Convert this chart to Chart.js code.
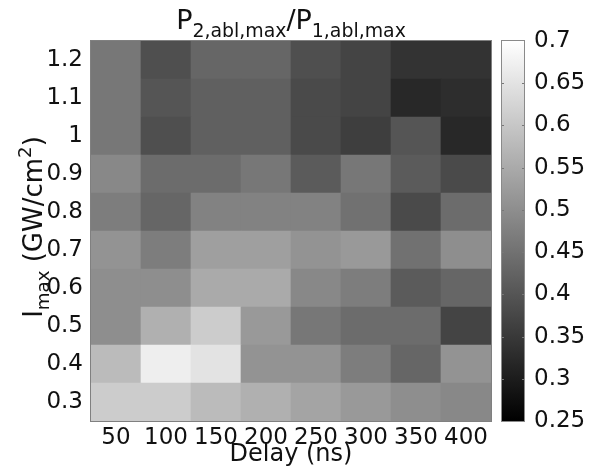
<!DOCTYPE html>
<html>
<head>
<meta charset="utf-8">
<script src="https://cdn.jsdelivr.net/npm/chart.js@4/dist/chart.umd.min.js"></script>
<style>
  body { margin: 0; background: #fff; }
  #wrap { position: relative; width: 594px; height: 475px; }
  #heat { position: absolute; left: 0; top: 0; }
  #bar { position: absolute; left: 494px; top: 0; }
</style>
</head>
<body>
<div id="wrap">
  <canvas id="heat" width="594" height="475"></canvas>
  <canvas id="bar" width="100" height="475"></canvas>
</div>
<script>
const delays = ["50", "100", "150", "200", "250", "300", "350", "400"];
const intensities = [0.3, 0.4, 0.5, 0.6, 0.7, 0.8, 0.9, 1, 1.1, 1.2];

// P2/P1 ratio, one row per intensity (0.3 ... 1.2), columns follow delays
const row03 = [0.61, 0.61, 0.58, 0.56, 0.54, 0.52, 0.50, 0.49];
const row04 = [0.58, 0.67, 0.65, 0.51, 0.51, 0.47, 0.43, 0.51];
const row05 = [0.50, 0.56, 0.61, 0.52, 0.46, 0.44, 0.44, 0.37];
const row06 = [0.50, 0.50, 0.55, 0.55, 0.49, 0.47, 0.41, 0.43];
const row07 = [0.51, 0.47, 0.53, 0.53, 0.51, 0.52, 0.45, 0.50];
const row08 = [0.47, 0.43, 0.48, 0.48, 0.48, 0.45, 0.38, 0.44];
const row09 = [0.49, 0.44, 0.44, 0.46, 0.41, 0.46, 0.41, 0.38];
const row10 = [0.46, 0.39, 0.42, 0.42, 0.38, 0.36, 0.40, 0.32];
const row11 = [0.46, 0.40, 0.42, 0.42, 0.38, 0.37, 0.32, 0.33];
const row12 = [0.46, 0.39, 0.43, 0.43, 0.39, 0.37, 0.34, 0.34];
const ratioRows = [row03, row04, row05, row06, row07, row08, row09, row10, row11, row12];

const colorTicks = [0.25, 0.3, 0.35, 0.4, 0.45, 0.5, 0.55, 0.6, 0.65, 0.7];
const cMin = 0.25;
const cMax = 0.7;

const FONT = '"DejaVu Sans", sans-serif';

function grayFor(v) {
  let t = (v - cMin) / (cMax - cMin);
  t = Math.max(0, Math.min(1, t));
  const g = Math.round(t * 255);
  return "rgb(" + g + "," + g + "," + g + ")";
}

// draws a string made of pieces, some of them sub- or superscript
function drawRich(ctx, parts, x, y, size, align) {
  const widths = parts.map(p => {
    ctx.font = (p.sub || p.sup ? size * 0.7 : size) + "px " + FONT;
    return ctx.measureText(p.t).width;
  });
  const total = widths.reduce((a, b) => a + b, 0);
  let cx = align === "center" ? x - total / 2 : x;
  ctx.textBaseline = "alphabetic";
  ctx.textAlign = "left";
  parts.forEach((p, i) => {
    ctx.font = (p.sub || p.sup ? size * 0.7 : size) + "px " + FONT;
    let dy = 0;
    if (p.sub) dy = size * 0.28;
    if (p.sup) dy = -size * 0.42;
    ctx.fillText(p.t, cx, y + dy);
    cx += widths[i];
  });
}

const heatLabels = {
  id: "heatLabels",
  afterDraw(chart) {
    const ctx = chart.ctx;
    const a = chart.chartArea;
    ctx.save();
    ctx.strokeStyle = "#808080";
    ctx.lineWidth = 1;
    ctx.strokeRect(a.left - 0.5, a.top - 0.5, a.width + 1, a.height + 1);
    ctx.fillStyle = "#111";
    drawRich(ctx, [
      { t: "P" }, { t: "2,abl,max", sub: true }, { t: "/P" }, { t: "1,abl,max", sub: true }
    ], (a.left + a.right) / 2, 29, 27, "center");
    ctx.translate(42, 227);
    ctx.rotate(-Math.PI / 2);
    drawRich(ctx, [
      { t: "I" }, { t: "max", sub: true }, { t: " (GW/cm" }, { t: "2", sup: true }, { t: ")" }
    ], 0, 0, 26, "center");
    ctx.restore();
  }
};

const heatData = {
  labels: delays,
  datasets: intensities.map((iv, r) => ({
    label: "I = " + iv,
    data: delays.map(() => [iv - 0.05, iv + 0.05]),
    backgroundColor: ratioRows[r].map(grayFor),
    borderWidth: 0,
    barPercentage: 1,
    categoryPercentage: 1,
    grouped: false
  }))
};

new Chart(document.querySelector("#heat").getContext("2d"), {
  type: "bar",
  data: heatData,
  options: {
    responsive: false,
    animation: false,
    layout: { padding: { top: 41, right: 103, left: 0, bottom: 0 } },
    plugins: { legend: { display: false }, tooltip: { enabled: false } },
    scales: {
      x: {
        grid: { display: false, drawTicks: false },
        border: { display: false },
        ticks: { color: "#111", font: { family: FONT, size: 23 }, padding: 3, maxRotation: 0, autoSkip: false },
        title: {
          display: true, text: "Delay (ns)", color: "#111",
          font: { family: FONT, size: 24 }, padding: { top: 0, bottom: 6 }
        },
        afterFit(scale) { scale.height = 54; }
      },
      y: {
        min: 0.25,
        max: 1.25,
        grid: { display: false, drawTicks: false },
        border: { display: false },
        ticks: {
          color: "#111", font: { family: FONT, size: 23 }, padding: 8,
          callback: v => String(v)
        },
        afterBuildTicks(scale) { scale.ticks = intensities.map(v => ({ value: v })); },
        afterFit(scale) { scale.width = 91; }
      }
    }
  },
  plugins: [heatLabels]
});

const barFrame = {
  id: "barFrame",
  afterDraw(chart) {
    const ctx = chart.ctx;
    const a = chart.chartArea;
    const ys = chart.scales.y;
    ctx.save();
    ctx.strokeStyle = "#8a8a8a";
    ctx.lineWidth = 1;
    ctx.strokeRect(a.left - 0.5, a.top - 0.5, a.width + 1, a.height + 1);
    ctx.strokeStyle = "#777";
    colorTicks.slice(1, -1).forEach(v => {
      const py = Math.round(ys.getPixelForValue(v)) + 0.5;
      ctx.beginPath();
      ctx.moveTo(a.left, py); ctx.lineTo(a.left + 2, py);
      ctx.moveTo(a.right - 2, py); ctx.lineTo(a.right, py);
      ctx.stroke();
    });
    ctx.restore();
  }
};

new Chart(document.querySelector("#bar").getContext("2d"), {
  type: "bar",
  data: {
    labels: ["scale"],
    datasets: [{
      data: [[cMin, cMax]],
      backgroundColor(c) {
        const chart = c.chart;
        if (!chart.chartArea) return "#888";
        const ys = chart.scales.y;
        const g = chart.ctx.createLinearGradient(0, ys.getPixelForValue(cMin), 0, ys.getPixelForValue(cMax));
        g.addColorStop(0, grayFor(cMin));
        g.addColorStop(1, grayFor(cMax));
        return g;
      },
      borderWidth: 0,
      barPercentage: 1,
      categoryPercentage: 1
    }]
  },
  options: {
    responsive: false,
    animation: false,
    layout: { padding: { top: 41, left: 8, right: 0, bottom: 54 } },
    plugins: { legend: { display: false }, tooltip: { enabled: false } },
    scales: {
      x: { display: false },
      y: {
        position: "right",
        min: cMin,
        max: cMax,
        grid: { display: false, drawTicks: false },
        border: { display: false },
        ticks: {
          color: "#111", font: { family: FONT, size: 23 }, padding: 10,
          callback: v => String(+v.toFixed(2))
        },
        afterBuildTicks(scale) { scale.ticks = colorTicks.map(v => ({ value: v })); },
        afterFit(scale) { scale.width = 70; }
      }
    }
  },
  plugins: [barFrame]
});
</script>
</body>
</html>
